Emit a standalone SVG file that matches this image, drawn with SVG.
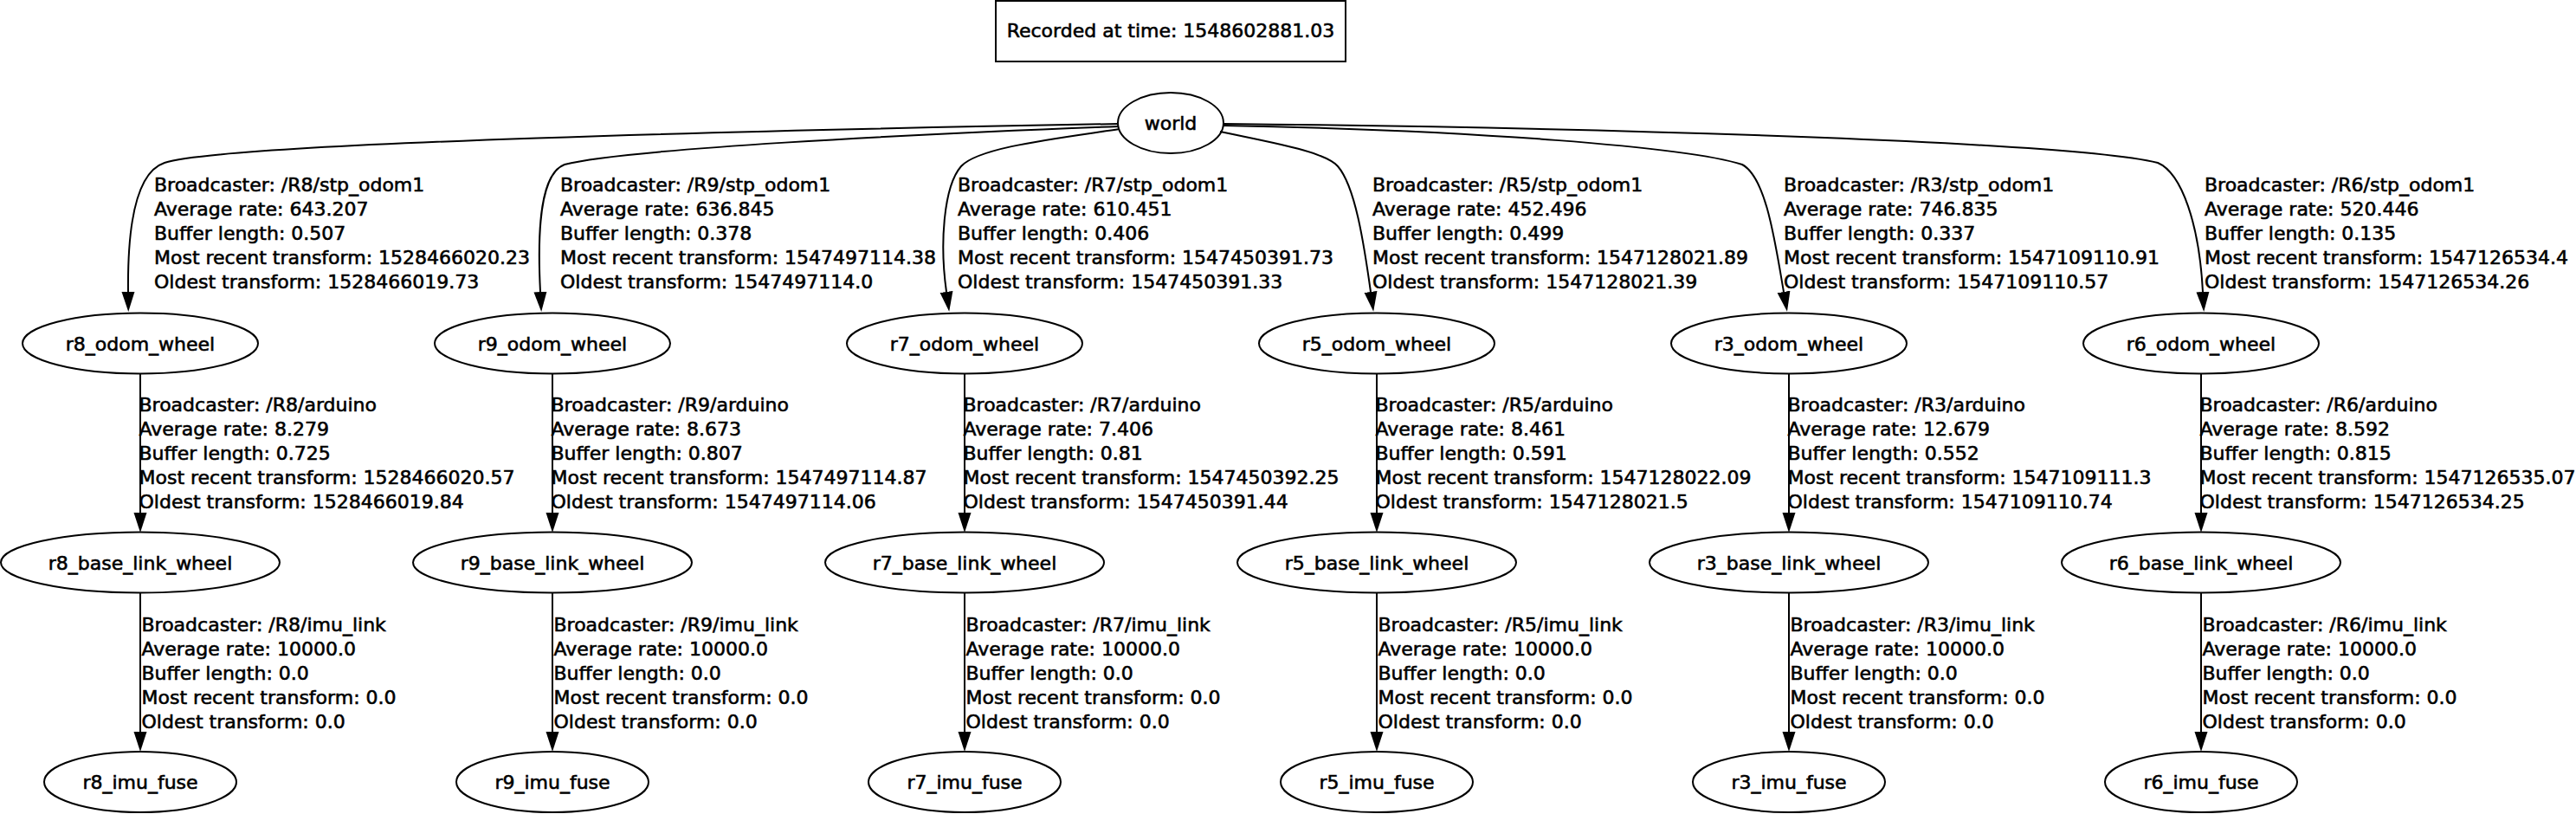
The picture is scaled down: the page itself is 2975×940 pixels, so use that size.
<svg xmlns="http://www.w3.org/2000/svg" width="2975" height="940" viewBox="0 0 2975 940">
<style>
text{font-family:"DejaVu Sans","Liberation Sans",sans-serif;font-size:22px;fill:#000;stroke:#000;stroke-width:0.6}
.n{text-anchor:middle}
ellipse,.box{fill:none;stroke:#000;stroke-width:2}
.e{fill:none;stroke:#000;stroke-width:2;marker-end:url(#ah)}
</style>
<defs>
<marker id="ah" markerUnits="userSpaceOnUse" markerWidth="24" markerHeight="16" refX="0" refY="8" orient="auto" viewBox="0 0 24 16">
<path d="M0,0.5 L23,8 L0,15.5 z" fill="#000"/>
</marker>
</defs>
<rect width="2975" height="940" fill="#fff"/>
<g id="legend"><rect class="box" x="1150" y="1" width="404" height="70"/><text class="n" x="1352" y="43">Recorded at time: 1548602881.03</text></g>
<g id="world"><ellipse cx="1352" cy="142" rx="61" ry="35"/><text class="n" x="1352" y="150">world</text></g>
<g id="r8_odom_wheel"><ellipse cx="162" cy="396.5" rx="136" ry="35"/><text class="n" x="162" y="404.5">r8_odom_wheel</text></g>
<g id="r9_odom_wheel"><ellipse cx="638" cy="396.5" rx="136" ry="35"/><text class="n" x="638" y="404.5">r9_odom_wheel</text></g>
<g id="r7_odom_wheel"><ellipse cx="1114" cy="396.5" rx="136" ry="35"/><text class="n" x="1114" y="404.5">r7_odom_wheel</text></g>
<g id="r5_odom_wheel"><ellipse cx="1590" cy="396.5" rx="136" ry="35"/><text class="n" x="1590" y="404.5">r5_odom_wheel</text></g>
<g id="r3_odom_wheel"><ellipse cx="2066" cy="396.5" rx="136" ry="35"/><text class="n" x="2066" y="404.5">r3_odom_wheel</text></g>
<g id="r6_odom_wheel"><ellipse cx="2542" cy="396.5" rx="136" ry="35"/><text class="n" x="2542" y="404.5">r6_odom_wheel</text></g>
<g id="r8_base_link_wheel"><ellipse cx="162" cy="649.5" rx="161" ry="35"/><text class="n" x="162" y="657.5">r8_base_link_wheel</text></g>
<g id="r9_base_link_wheel"><ellipse cx="638" cy="649.5" rx="161" ry="35"/><text class="n" x="638" y="657.5">r9_base_link_wheel</text></g>
<g id="r7_base_link_wheel"><ellipse cx="1114" cy="649.5" rx="161" ry="35"/><text class="n" x="1114" y="657.5">r7_base_link_wheel</text></g>
<g id="r5_base_link_wheel"><ellipse cx="1590" cy="649.5" rx="161" ry="35"/><text class="n" x="1590" y="657.5">r5_base_link_wheel</text></g>
<g id="r3_base_link_wheel"><ellipse cx="2066" cy="649.5" rx="161" ry="35"/><text class="n" x="2066" y="657.5">r3_base_link_wheel</text></g>
<g id="r6_base_link_wheel"><ellipse cx="2542" cy="649.5" rx="161" ry="35"/><text class="n" x="2542" y="657.5">r6_base_link_wheel</text></g>
<g id="r8_imu_fuse"><ellipse cx="162" cy="903" rx="111" ry="35"/><text class="n" x="162" y="911">r8_imu_fuse</text></g>
<g id="r9_imu_fuse"><ellipse cx="638" cy="903" rx="111" ry="35"/><text class="n" x="638" y="911">r9_imu_fuse</text></g>
<g id="r7_imu_fuse"><ellipse cx="1114" cy="903" rx="111" ry="35"/><text class="n" x="1114" y="911">r7_imu_fuse</text></g>
<g id="r5_imu_fuse"><ellipse cx="1590" cy="903" rx="111" ry="35"/><text class="n" x="1590" y="911">r5_imu_fuse</text></g>
<g id="r3_imu_fuse"><ellipse cx="2066" cy="903" rx="111" ry="35"/><text class="n" x="2066" y="911">r3_imu_fuse</text></g>
<g id="r6_imu_fuse"><ellipse cx="2542" cy="903" rx="111" ry="35"/><text class="n" x="2542" y="911">r6_imu_fuse</text></g>
<g id="connectors">
<path class="e" d="M1292,143 C900,150 260,165 190,188 C160,198 147,250 148,337"/>
<path class="e" d="M1292,146 C1050,155 720,172 652,190 C625,200 620,260 624,337"/>
<path class="e" d="M1293,149 C1220,160 1130,170 1110,192 C1090,215 1085,280 1093,337"/>
<path class="e" d="M1409,152 C1470,165 1530,175 1545,192 C1565,215 1575,280 1583,337"/>
<path class="e" d="M1413,145 C1700,150 1950,170 2012,190 C2040,205 2050,280 2060,337"/>
<path class="e" d="M1413,143 C1900,148 2400,165 2492,188 C2520,200 2540,260 2544,337"/>
<path class="e" d="M162,431.5 V592"/>
<path class="e" d="M638,431.5 V592"/>
<path class="e" d="M1114,431.5 V592"/>
<path class="e" d="M1590,431.5 V592"/>
<path class="e" d="M2066,431.5 V592"/>
<path class="e" d="M2542,431.5 V592"/>
<path class="e" d="M162,684.5 V845"/>
<path class="e" d="M638,684.5 V845"/>
<path class="e" d="M1114,684.5 V845"/>
<path class="e" d="M1590,684.5 V845"/>
<path class="e" d="M2066,684.5 V845"/>
<path class="e" d="M2542,684.5 V845"/>
<text x="178" y="221"><tspan x="178">Broadcaster: /R8/stp_odom1</tspan><tspan x="178" dy="28">Average rate: 643.207</tspan><tspan x="178" dy="28">Buffer length: 0.507</tspan><tspan x="178" dy="28">Most recent transform: 1528466020.23</tspan><tspan x="178" dy="28">Oldest transform: 1528466019.73</tspan></text>
<text x="647" y="221"><tspan x="647">Broadcaster: /R9/stp_odom1</tspan><tspan x="647" dy="28">Average rate: 636.845</tspan><tspan x="647" dy="28">Buffer length: 0.378</tspan><tspan x="647" dy="28">Most recent transform: 1547497114.38</tspan><tspan x="647" dy="28">Oldest transform: 1547497114.0</tspan></text>
<text x="1106" y="221"><tspan x="1106">Broadcaster: /R7/stp_odom1</tspan><tspan x="1106" dy="28">Average rate: 610.451</tspan><tspan x="1106" dy="28">Buffer length: 0.406</tspan><tspan x="1106" dy="28">Most recent transform: 1547450391.73</tspan><tspan x="1106" dy="28">Oldest transform: 1547450391.33</tspan></text>
<text x="1585" y="221"><tspan x="1585">Broadcaster: /R5/stp_odom1</tspan><tspan x="1585" dy="28">Average rate: 452.496</tspan><tspan x="1585" dy="28">Buffer length: 0.499</tspan><tspan x="1585" dy="28">Most recent transform: 1547128021.89</tspan><tspan x="1585" dy="28">Oldest transform: 1547128021.39</tspan></text>
<text x="2060" y="221"><tspan x="2060">Broadcaster: /R3/stp_odom1</tspan><tspan x="2060" dy="28">Average rate: 746.835</tspan><tspan x="2060" dy="28">Buffer length: 0.337</tspan><tspan x="2060" dy="28">Most recent transform: 1547109110.91</tspan><tspan x="2060" dy="28">Oldest transform: 1547109110.57</tspan></text>
<text x="2546" y="221"><tspan x="2546">Broadcaster: /R6/stp_odom1</tspan><tspan x="2546" dy="28">Average rate: 520.446</tspan><tspan x="2546" dy="28">Buffer length: 0.135</tspan><tspan x="2546" dy="28">Most recent transform: 1547126534.4</tspan><tspan x="2546" dy="28">Oldest transform: 1547126534.26</tspan></text>
<text x="160.5" y="475"><tspan x="160.5">Broadcaster: /R8/arduino</tspan><tspan x="160.5" dy="28">Average rate: 8.279</tspan><tspan x="160.5" dy="28">Buffer length: 0.725</tspan><tspan x="160.5" dy="28">Most recent transform: 1528466020.57</tspan><tspan x="160.5" dy="28">Oldest transform: 1528466019.84</tspan></text>
<text x="636.5" y="475"><tspan x="636.5">Broadcaster: /R9/arduino</tspan><tspan x="636.5" dy="28">Average rate: 8.673</tspan><tspan x="636.5" dy="28">Buffer length: 0.807</tspan><tspan x="636.5" dy="28">Most recent transform: 1547497114.87</tspan><tspan x="636.5" dy="28">Oldest transform: 1547497114.06</tspan></text>
<text x="1112.5" y="475"><tspan x="1112.5">Broadcaster: /R7/arduino</tspan><tspan x="1112.5" dy="28">Average rate: 7.406</tspan><tspan x="1112.5" dy="28">Buffer length: 0.81</tspan><tspan x="1112.5" dy="28">Most recent transform: 1547450392.25</tspan><tspan x="1112.5" dy="28">Oldest transform: 1547450391.44</tspan></text>
<text x="1588.5" y="475"><tspan x="1588.5">Broadcaster: /R5/arduino</tspan><tspan x="1588.5" dy="28">Average rate: 8.461</tspan><tspan x="1588.5" dy="28">Buffer length: 0.591</tspan><tspan x="1588.5" dy="28">Most recent transform: 1547128022.09</tspan><tspan x="1588.5" dy="28">Oldest transform: 1547128021.5</tspan></text>
<text x="2064.5" y="475"><tspan x="2064.5">Broadcaster: /R3/arduino</tspan><tspan x="2064.5" dy="28">Average rate: 12.679</tspan><tspan x="2064.5" dy="28">Buffer length: 0.552</tspan><tspan x="2064.5" dy="28">Most recent transform: 1547109111.3</tspan><tspan x="2064.5" dy="28">Oldest transform: 1547109110.74</tspan></text>
<text x="2540.5" y="475"><tspan x="2540.5">Broadcaster: /R6/arduino</tspan><tspan x="2540.5" dy="28">Average rate: 8.592</tspan><tspan x="2540.5" dy="28">Buffer length: 0.815</tspan><tspan x="2540.5" dy="28">Most recent transform: 1547126535.07</tspan><tspan x="2540.5" dy="28">Oldest transform: 1547126534.25</tspan></text>
<text x="163.5" y="729"><tspan x="163.5">Broadcaster: /R8/imu_link</tspan><tspan x="163.5" dy="28">Average rate: 10000.0</tspan><tspan x="163.5" dy="28">Buffer length: 0.0</tspan><tspan x="163.5" dy="28">Most recent transform: 0.0</tspan><tspan x="163.5" dy="28">Oldest transform: 0.0</tspan></text>
<text x="639.5" y="729"><tspan x="639.5">Broadcaster: /R9/imu_link</tspan><tspan x="639.5" dy="28">Average rate: 10000.0</tspan><tspan x="639.5" dy="28">Buffer length: 0.0</tspan><tspan x="639.5" dy="28">Most recent transform: 0.0</tspan><tspan x="639.5" dy="28">Oldest transform: 0.0</tspan></text>
<text x="1115.5" y="729"><tspan x="1115.5">Broadcaster: /R7/imu_link</tspan><tspan x="1115.5" dy="28">Average rate: 10000.0</tspan><tspan x="1115.5" dy="28">Buffer length: 0.0</tspan><tspan x="1115.5" dy="28">Most recent transform: 0.0</tspan><tspan x="1115.5" dy="28">Oldest transform: 0.0</tspan></text>
<text x="1591.5" y="729"><tspan x="1591.5">Broadcaster: /R5/imu_link</tspan><tspan x="1591.5" dy="28">Average rate: 10000.0</tspan><tspan x="1591.5" dy="28">Buffer length: 0.0</tspan><tspan x="1591.5" dy="28">Most recent transform: 0.0</tspan><tspan x="1591.5" dy="28">Oldest transform: 0.0</tspan></text>
<text x="2067.5" y="729"><tspan x="2067.5">Broadcaster: /R3/imu_link</tspan><tspan x="2067.5" dy="28">Average rate: 10000.0</tspan><tspan x="2067.5" dy="28">Buffer length: 0.0</tspan><tspan x="2067.5" dy="28">Most recent transform: 0.0</tspan><tspan x="2067.5" dy="28">Oldest transform: 0.0</tspan></text>
<text x="2543.5" y="729"><tspan x="2543.5">Broadcaster: /R6/imu_link</tspan><tspan x="2543.5" dy="28">Average rate: 10000.0</tspan><tspan x="2543.5" dy="28">Buffer length: 0.0</tspan><tspan x="2543.5" dy="28">Most recent transform: 0.0</tspan><tspan x="2543.5" dy="28">Oldest transform: 0.0</tspan></text>
</g>
</svg>
